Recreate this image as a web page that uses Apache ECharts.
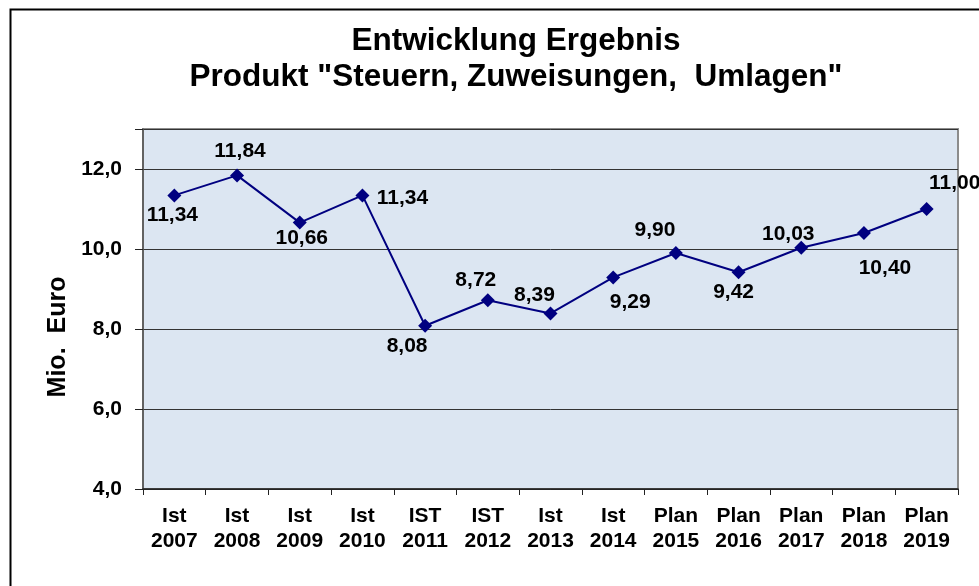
<!DOCTYPE html>
<html>
<head>
<meta charset="utf-8">
<script src="https://cdn.jsdelivr.net/npm/echarts@6/dist/echarts.min.js"></script>
<style>
html,body{margin:0;padding:0;background:#fff;}
#c{width:979px;height:586px;}
</style>
</head>
<body>
<div id="c"></div>
<script>
const categories = ['Ist\n2007','Ist\n2008','Ist\n2009','Ist\n2010','IST\n2011','IST\n2012','Ist\n2013','Ist\n2014','Plan\n2015','Plan\n2016','Plan\n2017','Plan\n2018','Plan\n2019'];
const values = [11.34, 11.84, 10.66, 11.34, 8.08, 8.72, 8.39, 9.29, 9.90, 9.42, 10.03, 10.40, 11.00];
const yTicks = { min: 4, max: 13, interval: 2 };
// label offsets (style only)
const labelOffsets = [[-2,20],[3,-24],[2,16],[40,3],[-18,20],[-12,-20],[-16,-18],[17,25],[-21,-23],[-5,20],[-13,-14],[21,35],[28,-26]];

const FONT = '"Liberation Sans", Arial, sans-serif';
const fmt = v => v.toFixed(2).replace('.', ',');

const chart = echarts.init(document.getElementById('c'), null, {renderer:'canvas'});
chart.setOption({
  animation: false,
  backgroundColor: '#fff',
  title: {
    text: 'Entwicklung Ergebnis\nProdukt "Steuern, Zuweisungen,  Umlagen"',
    left: 511, top: 18, textAlign: 'center',
    textStyle: { fontFamily: FONT, fontWeight: 'bold', fontSize: 31.5, lineHeight: 36, color: '#000' }
  },
  graphic: [{
    type: 'rect', left: 8, top: 7, silent: true,
    shape: { width: 1000, height: 600 },
    style: { fill: null, stroke: '#000', lineWidth: 2 }
  }],
  grid: {
    left: 143, right: 21, top: 129, bottom: 97,
    show: true, backgroundColor: '#DCE6F2', borderColor: '#8c8c8c', borderWidth: 2
  },
  xAxis: {
    type: 'category',
    data: categories,
    boundaryGap: true,
    axisLine: { lineStyle: { color: '#222', width: 1.5 } },
    axisTick: { show: true, length: 6, lineStyle: { color: '#222' }, alignWithLabel: false },
    axisLabel: { interval: 0, margin: 15, fontFamily: FONT, fontWeight: 'bold', fontSize: 21, lineHeight: 25, color: '#000' }
  },
  yAxis: {
    type: 'value',
    min: yTicks.min, max: yTicks.max, interval: yTicks.interval,
    name: 'Mio.  Euro',
    nameLocation: 'middle', nameGap: 72, nameRotate: 90,
    nameTextStyle: { fontFamily: FONT, fontWeight: 'bold', fontSize: 25, color: '#000', padding: [0,0,0,-56] },
    axisLine: { show: true, lineStyle: { color: '#555', width: 1.5 } },
    axisTick: { show: true, length: 8, lineStyle: { color: '#222' } },
    axisLabel: {
      margin: 21, fontFamily: FONT, fontWeight: 'bold', fontSize: 21, color: '#000',
      formatter: v => (v === yTicks.max ? '' : v.toFixed(1).replace('.', ','))
    },
    splitLine: { show: true, lineStyle: { color: '#333', width: 1 } }
  },
  series: [{
    type: 'line',
    data: values.map((v, i) => ({
      value: v,
      label: { offset: labelOffsets[i] }
    })),
    symbol: 'diamond',
    symbolSize: 14,
    lineStyle: { color: '#000080', width: 2 },
    itemStyle: { color: '#000080' },
    label: {
      show: true, position: 'inside',
      fontFamily: FONT, fontWeight: 'bold', fontSize: 21, color: '#000',
      formatter: p => fmt(p.value)
    }
  }]
});
</script>
</body>
</html>
